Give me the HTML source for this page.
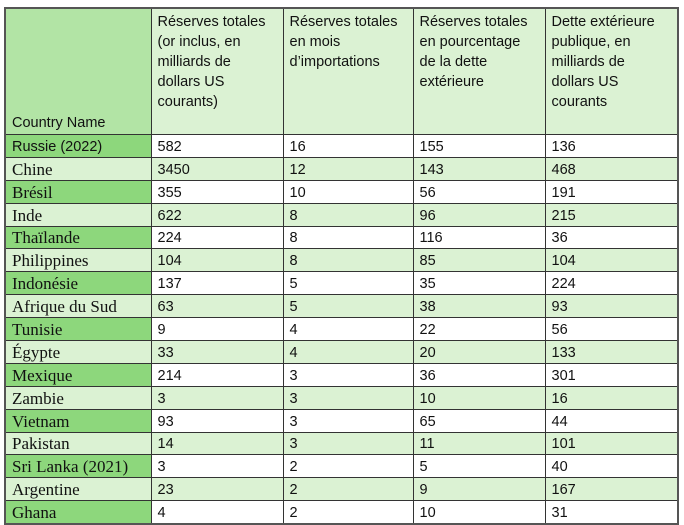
<!DOCTYPE html>
<html><head><meta charset="utf-8"><style>
html,body{margin:0;padding:0;background:#fff;width:684px;height:522px;overflow:hidden}
table{position:absolute;left:4px;top:7px;border-collapse:collapse;table-layout:fixed;width:673px;border:2px solid #555}
td{border:1px solid #333;padding:0 0 0 6px;font-family:"Liberation Sans",sans-serif;font-size:14.5px;color:#111;height:21.9px;line-height:20px;vertical-align:bottom;white-space:nowrap;overflow:hidden}
tr.h td{height:121px;vertical-align:top;background:#dbf2d3;line-height:20px;padding-top:3px}
tr.h td.c{background:#b2e4a5;vertical-align:bottom;padding-bottom:1px}
td.c{font-family:"Liberation Serif",serif;font-size:17px}
tr.o td{background:#fff}
tr.o td.c{background:#8dd77c}
tr.e td{background:#dbf2d3}
td.s{font-family:"Liberation Sans",sans-serif;font-size:14.5px}
</style></head><body>
<table>
<colgroup><col style="width:146px"><col style="width:132px"><col style="width:130px"><col style="width:132px"><col style="width:133px"></colgroup>
<tr class="h"><td class="c s">Country Name</td><td>Réserves totales<br>(or inclus, en<br>milliards de<br>dollars US<br>courants)</td><td>Réserves totales<br>en mois<br>d’importations</td><td>Réserves totales<br>en pourcentage<br>de la dette<br>extérieure</td><td>Dette extérieure<br>publique, en<br>milliards de<br>dollars US<br>courants</td></tr>
<tr class="o"><td class="c s">Russie (2022)</td><td>582</td><td>16</td><td>155</td><td>136</td></tr>
<tr class="e"><td class="c">Chine</td><td>3450</td><td>12</td><td>143</td><td>468</td></tr>
<tr class="o"><td class="c">Brésil</td><td>355</td><td>10</td><td>56</td><td>191</td></tr>
<tr class="e"><td class="c">Inde</td><td>622</td><td>8</td><td>96</td><td>215</td></tr>
<tr class="o"><td class="c">Thaïlande</td><td>224</td><td>8</td><td>116</td><td>36</td></tr>
<tr class="e"><td class="c">Philippines</td><td>104</td><td>8</td><td>85</td><td>104</td></tr>
<tr class="o"><td class="c">Indonésie</td><td>137</td><td>5</td><td>35</td><td>224</td></tr>
<tr class="e"><td class="c">Afrique du Sud</td><td>63</td><td>5</td><td>38</td><td>93</td></tr>
<tr class="o"><td class="c">Tunisie</td><td>9</td><td>4</td><td>22</td><td>56</td></tr>
<tr class="e"><td class="c">Égypte</td><td>33</td><td>4</td><td>20</td><td>133</td></tr>
<tr class="o"><td class="c">Mexique</td><td>214</td><td>3</td><td>36</td><td>301</td></tr>
<tr class="e"><td class="c">Zambie</td><td>3</td><td>3</td><td>10</td><td>16</td></tr>
<tr class="o"><td class="c">Vietnam</td><td>93</td><td>3</td><td>65</td><td>44</td></tr>
<tr class="e"><td class="c">Pakistan</td><td>14</td><td>3</td><td>11</td><td>101</td></tr>
<tr class="o"><td class="c">Sri Lanka (2021)</td><td>3</td><td>2</td><td>5</td><td>40</td></tr>
<tr class="e"><td class="c">Argentine</td><td>23</td><td>2</td><td>9</td><td>167</td></tr>
<tr class="o"><td class="c">Ghana</td><td>4</td><td>2</td><td>10</td><td>31</td></tr>
</table>
</body></html>
